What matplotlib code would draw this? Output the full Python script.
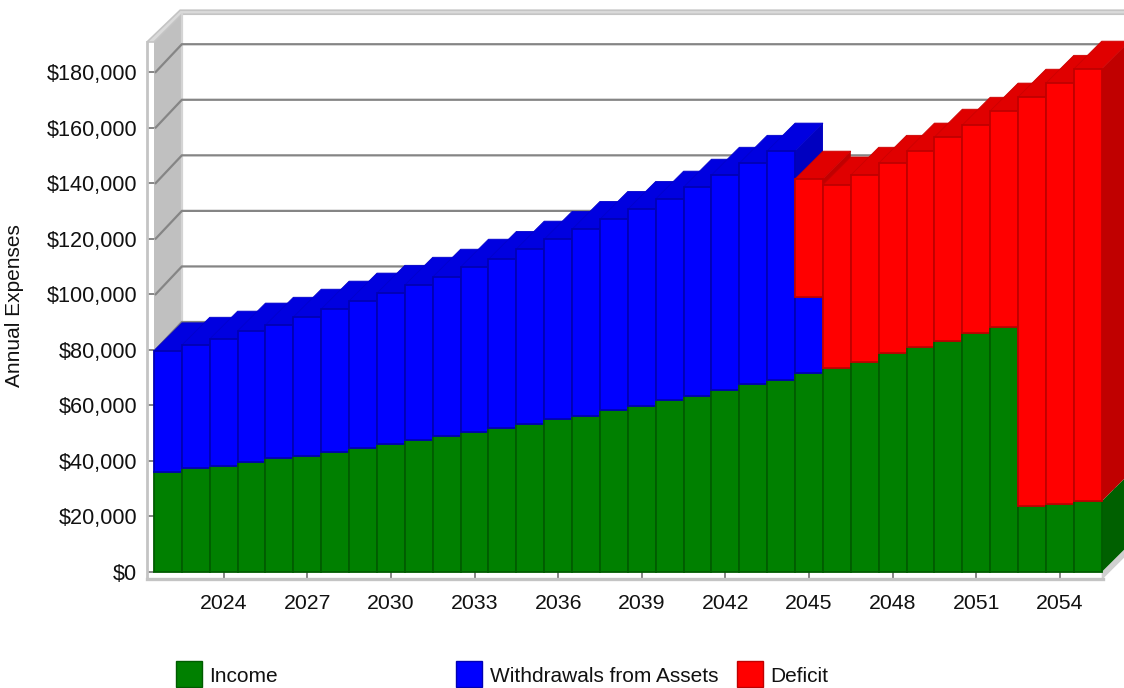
import matplotlib
matplotlib.use("Agg")
import matplotlib.pyplot as plt
from matplotlib.patches import Polygon, Rectangle

plt.rcParams["font.family"] = ["Liberation Sans", "DejaVu Sans"]

years = list(range(2022, 2056))
tick_years = list(range(2024, 2055, 3))
y_ticks = list(range(0, 180001, 20000))

income = [36100, 37400, 38200, 39700, 41100, 41900, 43300, 44700, 46100, 47600,
          49100, 50500, 51900, 53400, 55000, 56300, 58400, 59800, 62000, 63500,
          65600, 67800, 69200, 71500, 73500, 75700, 78700, 80900, 83100, 85900,
          88100, 23700, 24400, 25500]
withdrawals = [43600, 44300, 45700, 47100, 47800, 49900, 51400, 52900, 54300, 55700,
               57100, 59300, 60700, 62900, 64800, 67100, 68600, 70800, 72300, 75100,
               77300, 79400, 82400, 27400, 0, 0, 0, 0, 0, 0,
               0, 0, 0, 0]
deficit = [0, 0, 0, 0, 0, 0, 0, 0, 0, 0,
           0, 0, 0, 0, 0, 0, 0, 0, 0, 0,
           0, 0, 0, 42600, 65900, 67200, 68500, 70700, 73500, 75000,
           77900, 147300, 151600, 155600]

series_names = ["Income", "Withdrawals from Assets", "Deficit"]
front_colors = ["#008000", "#0000FF", "#FF0000"]
top_colors = ["#007000", "#0000E0", "#E00000"]
side_colors = ["#006000", "#0000C0", "#C00000"]
edge_colors = ["#005C00", "#0000B4", "#C00000"]
top_edges = ["#006000", "#0000CC", "#CC0000"]

W, H = 1124, 688
fig = plt.figure(figsize=(W / 100, H / 100), dpi=100, facecolor="white")
ax = fig.add_axes([154 / W, 1 - 572 / H, (1101.7 - 154) / W, 500 / H])
x_lo, x_hi = 2021.5, 2055.5
ax.set_xlim(x_lo, x_hi)
ax.set_ylim(0, 180000)
for spine in ax.spines.values():
    spine.set_visible(False)
ax.patch.set_visible(False)

# Oblique projection: depth runs up and to the right by one bar slot.
dx = 1.0
dy = 10000
px_x = (x_hi - x_lo) / (1101.7 - 154)
px_y = 360.0
wall_top = 190800
margin_x = 7 * px_x
margin_y = 7 * px_y
far_right = x_hi + 2 * dx


def poly(points, fc, ec="none", lw=0.0, z=1):
    ax.add_patch(Polygon(points, closed=True, facecolor=fc, edgecolor=ec,
                         linewidth=lw, zorder=z, clip_on=False, joinstyle="miter"))


frame = "#C4C4C4"
# Left wall, its outer lip and the top rim of the back wall.
poly([(x_lo, 0), (x_lo, wall_top), (x_lo + dx, wall_top + dy), (x_lo + dx, dy)], "#C0C0C0", z=1)
poly([(x_lo - margin_x, wall_top), (x_lo + dx - margin_x * 0.25, wall_top + dy + 4 * px_y),
      (far_right, wall_top + dy + 4 * px_y), (far_right, wall_top + dy),
      (x_lo + dx, wall_top + dy), (x_lo, wall_top)], "#DADADA", ec=frame, lw=1.2, z=2)
ax.plot([x_lo + dx + 0.02] * 2, [dy, wall_top + dy], color="#D4D4D4", lw=1.6, zorder=2, clip_on=False)
ax.plot([x_lo - margin_x] * 2, [-margin_y, wall_top], color=frame, lw=2.0, zorder=2, clip_on=False)

# Floor: front lip and the receding band on the right.
ax.plot([x_lo - margin_x, x_hi + 1.5 * px_x], [-margin_y, -margin_y], color=frame, lw=2.4, zorder=2, clip_on=False)
poly([(x_hi, -margin_y - px_y), (x_hi + dx, dy - margin_y - px_y), (x_hi + dx, dy), (x_hi, 0)], "#D0D0D0", z=1)

# Gridlines across the left wall and the back wall.
for v in y_ticks[1:]:
    ax.plot([x_lo + 0.06, x_lo + dx, far_right], [v, v + dy, v + dy],
            color="#858585", lw=1.6, zorder=3, clip_on=False, solid_joinstyle="miter")

# Stacked columns, painted left to right so each one hides its neighbour's side.
z = 10
for i, year in enumerate(years):
    left, right = year - 0.5, year + 0.5
    parts = [income[i], withdrawals[i], deficit[i]]
    base = 0
    top_idx = max(k for k, v in enumerate(parts) if v > 0)
    for k, v in enumerate(parts):
        if v <= 0:
            continue
        upper = base + v
        poly([(right, base), (right + dx, base + dy), (right + dx, upper + dy), (right, upper)],
             side_colors[k], z=z)
        z += 1
        if k == top_idx:
            poly([(left, upper), (left + dx, upper + dy), (right + dx, upper + dy), (right, upper)],
                 top_colors[k], ec=top_edges[k], lw=0.6, z=z)
            z += 1
        ax.add_patch(Rectangle((left, base), 1.0, v, facecolor=front_colors[k],
                               edgecolor=edge_colors[k], linewidth=1.3, zorder=z, clip_on=False))
        z += 1
        base = upper

ax.set_xticks(tick_years)
ax.set_xticklabels([str(y) for y in tick_years])
ax.set_yticks(y_ticks)
ax.set_yticklabels([f"${v:,}" for v in y_ticks])
ax.tick_params(axis="x", direction="out", length=4.5, width=1.4, color="#858585", pad=11,
               labelsize=15.3, labelcolor="#111111")
ax.tick_params(axis="y", direction="out", length=5, width=1.4, color="#858585", pad=7,
               labelsize=15.6, labelcolor="#111111")
ax.set_ylabel("Annual Expenses", fontsize=15, color="#111111")
ax.yaxis.set_label_coords((24 - 154) / (1101.7 - 154), (572 - 306) / 500)

# Legend row along the bottom edge, with evenly spaced entries.
legend_x = [176, 456, 737]
for name, color, edge, px in zip(series_names, front_colors, edge_colors, legend_x):
    fig.add_artist(Rectangle((px / W, 1 - 687 / H), 26 / W, 26 / H, facecolor=color,
                             edgecolor=edge, linewidth=1.0, transform=fig.transFigure))
    fig.text((px + 33.5) / W, 1 - 676 / H, name, fontsize=15, va="center", ha="left", color="#111111")

fig.savefig("out.png", dpi=100, facecolor="white")
